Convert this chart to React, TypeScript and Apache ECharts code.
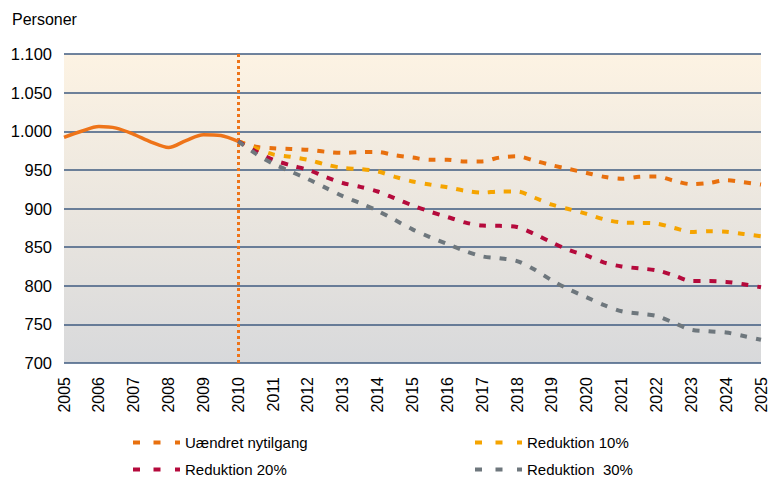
import React, { useEffect, useRef } from "react";
import * as echarts from "echarts";

// Historical (solid) series, half-year steps 2005-2010
const histYears = [2005, 2005.5, 2006, 2006.5, 2007, 2007.5, 2008, 2008.5, 2009, 2009.5, 2010];
const histValues = [992, 1000, 1006, 1004, 996, 986, 979, 988, 995.5, 994.5, 987];

// Projection years, half-year steps 2010-2025
const projYears = [
  2010, 2010.5, 2011, 2011.5, 2012, 2012.5, 2013, 2013.5, 2014, 2014.5, 2015, 2015.5,
  2016, 2016.5, 2017, 2017.5, 2018, 2018.5, 2019, 2019.5, 2020, 2020.5, 2021, 2021.5,
  2022, 2022.5, 2023, 2023.5, 2024, 2024.5, 2025,
];
const uaendret = [
  987, 980, 978, 977, 976, 973.5, 972, 973, 973, 969, 966, 963, 963, 961, 961, 966, 967.5,
  962, 956, 951, 946, 941, 938.5, 941, 941.5, 936, 931.5, 933, 936.5, 934, 931,
];
const red10 = [
  987, 978, 970, 967, 963, 957, 952.5, 951, 948, 941, 935, 931, 927.5, 923, 920.5, 922, 922,
  914, 905, 899, 893, 886, 882, 881.5, 880.5, 875, 869.5, 870.5, 870, 867, 864,
];
const red20 = [
  987, 974, 963, 956, 950, 941, 933, 928, 922, 913, 904, 896, 889, 882, 878, 877.6, 876,
  867, 856, 846, 839, 830, 825, 822.5, 820, 813.5, 806, 806, 805, 802, 798,
];
const red30 = [
  987, 971, 958, 948, 938, 927, 916, 907, 897, 885, 873, 863, 854, 845, 838, 835.5, 832,
  821, 807, 795, 785, 775, 767, 764, 761, 752, 743, 741, 739.5, 735, 730,
];

const seriesNames = ["Uændret nytilgang", "Reduktion 10%", "Reduktion 20%", "Reduktion  30%"];
const seriesColors = ["#E8700E", "#F5A400", "#B50A3C", "#6E777D"];
const seriesData = [uaendret, red10, red20, red30];

const yMin = 700;
const yMax = 1100;
const yStep = 50;
const xMin = 2005;
const xMax = 2025;
const splitYear = 2010;

const FONT = 'Arial, "Liberation Sans", sans-serif';
const legendIcon = "path://M0,0h7v4h-7z M20.5,0h7v4h-7z M42,0h5v4h-5z";

function fmtY(v: number): string {
  if (v >= 1000) {
    const th = Math.floor(v / 1000);
    const rest = String(v % 1000).padStart(3, "0");
    return th + "." + rest;
  }
  return String(v);
}

export default function App() {
  const ref = useRef<HTMLDivElement>(null);

  useEffect(() => {
    if (!ref.current) return;
    const chart = echarts.init(ref.current, undefined, { renderer: "svg" });

    const legendPos = [
      { left: 133, top: 435 },
      { left: 475, top: 435 },
      { left: 133, top: 462 },
      { left: 475, top: 462 },
    ];

    const option: any = {
      animation: false,
      title: {
        text: "Personer",
        left: 12,
        top: 11,
        padding: 0,
        textStyle: { fontFamily: FONT, fontSize: 16, fontWeight: "normal", color: "#000" },
      },
      legend: seriesNames.map((name, i) => ({
        data: [{ name, icon: legendIcon }],
        left: legendPos[i].left,
        top: legendPos[i].top,
        itemWidth: 47,
        itemHeight: 4,
        padding: 0,
        selectedMode: false,
        textStyle: { fontFamily: FONT, fontSize: 15, color: "#000" },
      })),
      grid: {
        left: 64,
        right: 5,
        top: 54,
        height: 309,
        show: true,
        borderWidth: 0,
        backgroundColor: new echarts.graphic.LinearGradient(0, 0, 0, 1, [
          { offset: 0, color: "#FDF3E3" },
          { offset: 1, color: "#D8D9DB" },
        ]),
      },
      xAxis: {
        type: "value",
        min: xMin,
        max: xMax,
        interval: 1,
        axisLine: { show: false },
        axisTick: { show: false },
        splitLine: { show: false },
        axisLabel: {
          rotate: 90,
          margin: 14,
          fontFamily: FONT,
          fontSize: 16,
          color: "#000",
          formatter: (v: number) => String(v),
        },
      },
      yAxis: {
        type: "value",
        min: yMin,
        max: yMax,
        interval: yStep,
        axisLine: { show: false },
        axisTick: { show: false },
        splitLine: { show: true, lineStyle: { color: "#3F5B80", width: 1.6 } },
        axisLabel: {
          margin: 12,
          fontFamily: FONT,
          fontSize: 16.5,
          color: "#000",
          formatter: (v: number) => fmtY(v),
        },
      },
      series: [
        {
          name: "Historisk",
          type: "line",
          data: histYears.map((y, i) => [y, histValues[i]]),
          symbol: "none",
          smooth: 0.3,
          lineStyle: { color: "#EE7419", width: 3.5 },
          z: 2,
          markLine: {
            silent: true,
            symbol: "none",
            label: { show: false },
            lineStyle: { color: "#EE7419", type: [3, 3], width: 3 },
            data: [{ xAxis: splitYear }],
          },
        },
        ...seriesNames.map((name, i) => ({
          name,
          type: "line",
          data: projYears.map((y, j) => [y, seriesData[i][j]]),
          symbol: "none",
          smooth: 0.3,
          color: seriesColors[i],
          lineStyle: { color: seriesColors[i], width: 4, type: [7, 9], cap: "butt" },
          z: 3 + i,
        })),
      ],
    };

    chart.setOption(option);
    return () => chart.dispose();
  }, []);

  return (
    <div
      ref={ref}
      style={{ position: "fixed", left: 0, top: 0, width: 769, height: 477, background: "#fff" }}
    />
  );
}
